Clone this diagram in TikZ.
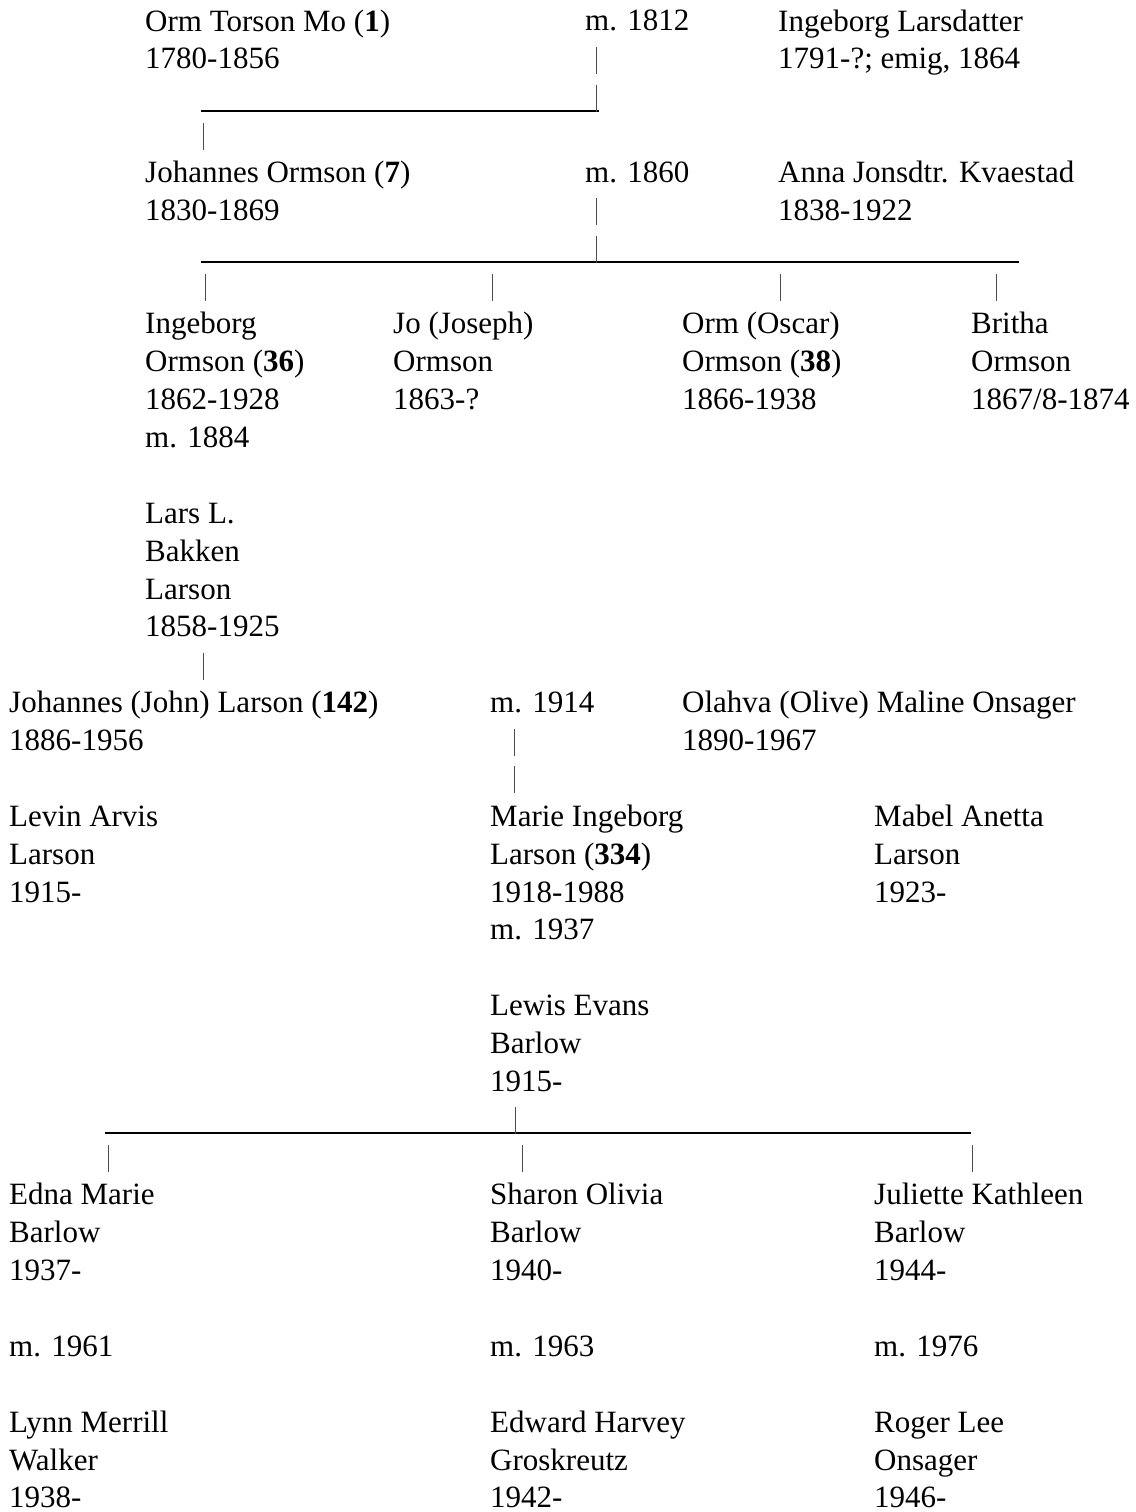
\documentclass[tikz,border=0pt]{standalone}
\usepackage{fontspec}
\setmainfont{Liberation Serif}
\usepackage{tikz}

% nodes sit on the baseline of their last line
\tikzset{
  person/.style={anchor=base west, inner sep=0pt, align=left,
    font=\fontsize{31}{37.87}\selectfont},
  rule/.style={line width=1.8pt},
  tick/.style={line width=0.9pt, black!70},
}

\begin{document}
\begin{tikzpicture}[x=1pt,y=-1pt]
\useasboundingbox (0,0) rectangle (1135,1512);

% first generations
\node[person] (orm) at (145,68.9) {Orm Torson Mo (\textbf{1})\\1780-1856};
\node[person] (m1812) at (585,31) {m. 1812};
\node[person] (ingeborgL) at (778,68.9) {Ingeborg Larsdatter\\1791-?; emig, 1864};
\node[person] (johannes) at (145,220.4) {Johannes Ormson (\textbf{7})\\1830-1869};
\node[person] (m1860) at (585,182.5) {m. 1860};
\node[person] (anna) at (778,220.4) {Anna Jonsdtr. Kvaestad\\1838-1922};

% children
\node[person] (ingeborg) at (145,447.6) {Ingeborg\\Ormson (\textbf{36})\\1862-1928\\m. 1884};
\node[person] (jo) at (393,409.7) {Jo (Joseph)\\Ormson\\1863-?};
\node[person] (oscar) at (682,409.7) {Orm (Oscar)\\Ormson (\textbf{38})\\1866-1938};
\node[person] (britha) at (971,409.7) {Britha\\Ormson\\1867/8-1874};
\node[person] (lars) at (145,636.9) {Lars L.\\Bakken\\Larson\\1858-1925};

\node[person] (john) at (9,750.5) {Johannes (John) Larson (\textbf{142})\\1886-1956};
\node[person] (m1914) at (490,712.7) {m. 1914};
\node[person] (olive) at (682,750.5) {Olahva (Olive) Maline Onsager\\1890-1967};

\node[person] (levin) at (9,902) {Levin Arvis\\Larson\\1915-};
\node[person] (marie) at (490,939.9) {Marie Ingeborg\\Larson (\textbf{334})\\1918-1988\\m. 1937};
\node[person] (mabel) at (874,902) {Mabel Anetta\\Larson\\1923-};
\node[person] (lewis) at (490,1091.4) {Lewis Evans\\Barlow\\1915-};

% grandchildren
\node[person] (edna) at (9,1280.7) {Edna Marie\\Barlow\\1937-};
\node[person] (sharon) at (490,1280.7) {Sharon Olivia\\Barlow\\1940-};
\node[person] (juliette) at (874,1280.7) {Juliette Kathleen\\Barlow\\1944-};
\node[person] (m1961) at (9,1356.5) {m. 1961};
\node[person] (m1963) at (490,1356.5) {m. 1963};
\node[person] (m1976) at (874,1356.5) {m. 1976};
\node[person] (lynn) at (9,1507.9) {Lynn Merrill\\Walker\\1938-};
\node[person] (edward) at (490,1507.9) {Edward Harvey\\Groskreutz\\1942-};
\node[person] (roger) at (874,1507.9) {Roger Lee\\Onsager\\1946-};

% family lines
\coordinate (famA) at (201,111);
\coordinate (famA') at (599,111);
\coordinate (famB) at (201,262);
\coordinate (famB') at (1019,262);
\coordinate (famC) at (105,1133);
\coordinate (famC') at (971,1133);
\draw[rule] (famA) -- (famA');
\draw[rule] (famB) -- (famB');
\draw[rule] (famC) -- (famC');

\foreach \n/\x/\y in {a/596/68.9, b/596/106.7, c/203/144.6,
    d/596/220.4, e/596/258.2,
    f/205/296.1, g/492/296.1, h/780/296.1, i/996/296.1,
    j/203/674.8, k/514/750.5, l/514/788.4,
    m/515/1129.2, n/108/1167.1, o/522/1167.1, p/972/1167.1}
  {\coordinate (bar\n) at (\x,\y+5);
   \draw[tick] (bar\n) -- ++(0,-27);}
\end{tikzpicture}
\end{document}
